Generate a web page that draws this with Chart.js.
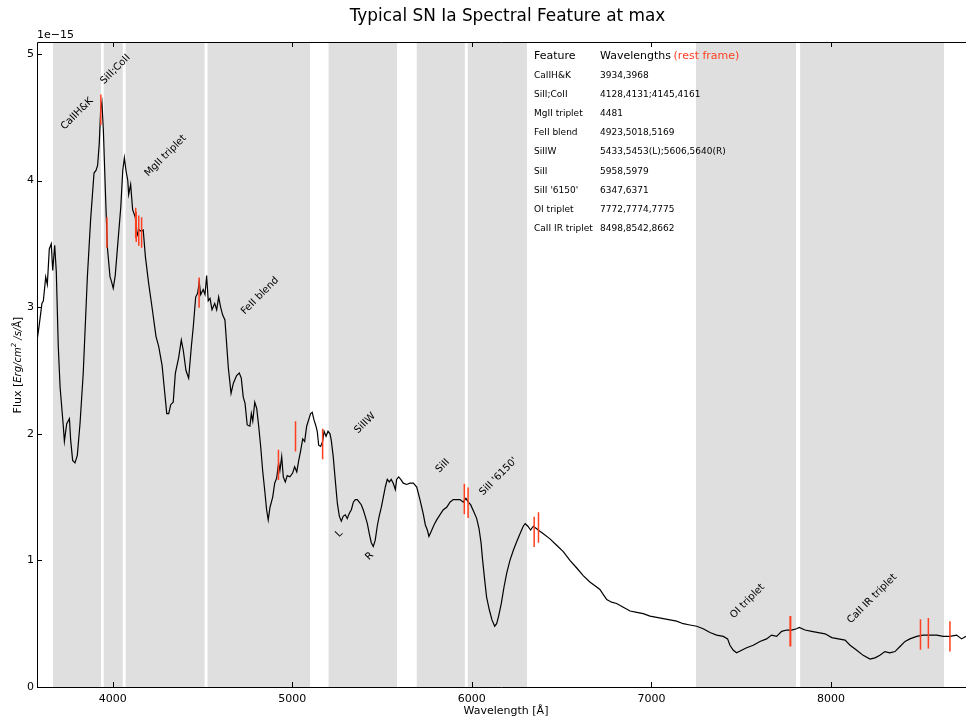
<!DOCTYPE html>
<html>
<head>
<meta charset="utf-8">
<title>Typical SN Ia Spectral Feature at max</title>
<script src="https://cdn.jsdelivr.net/npm/chart.js@4.4.1/dist/chart.umd.min.js"></script>
<style>
  body { margin: 0; background: #fff; }
  canvas { display: block; }
</style>
</head>
<body>
<canvas id="spec-chart" width="967" height="720"></canvas>
<script>
// Spectrum (wavelength in Angstrom, flux in units of 1e-15)
const wave = [3580,3591,3606,3614,3627,3636,3647,3658,3666,3677,3686,3697,3707,3725,3731,3744,3759,3766,3777,3790,
  3803,3818,3836,3859,3877,3896,3907,3916,3925,3933,3940,3948,3959,3970,3985,3992,4003,4014,4030,4045,
  4056,4065,4074,4084,4089,4100,4111,4126,4137,4148,4159,4170,4182,4200,4219,4241,4256,4275,4290,4301,
  4312,4323,4337,4349,4367,4382,4393,4408,4423,4438,4449,4462,4473,4482,4490,4504,4514,4523,4532,4542,
  4553,4568,4579,4590,4601,4612,4625,4644,4659,4672,4690,4705,4716,4727,4737,4749,4764,4772,4780,4791,
  4802,4813,4824,4835,4846,4857,4866,4876,4891,4902,4913,4924,4931,4941,4950,4961,4972,4987,5002,5013,
  5025,5036,5047,5058,5069,5080,5091,5102,5111,5121,5132,5139,5147,5158,5169,5177,5188,5199,5210,5217,
  5228,5239,5251,5262,5273,5284,5295,5306,5317,5329,5340,5351,5362,5373,5384,5395,5406,5418,5429,5440,
  5451,5462,5473,5484,5496,5507,5518,5529,5540,5551,5562,5574,5581,5592,5604,5618,5637,5655,5674,5693,
  5711,5729,5741,5752,5761,5774,5789,5804,5822,5841,5860,5878,5896,5915,5934,5952,5967,5980,5993,6012,
  6027,6040,6051,6060,6071,6082,6097,6112,6127,6138,6149,6164,6179,6194,6212,6231,6250,6268,6286,6297,
  6312,6327,6342,6361,6379,6398,6435,6472,6509,6546,6584,6620,6657,6695,6713,6732,6751,6778,6806,6843,
  6881,6918,6954,6992,7029,7066,7103,7140,7177,7214,7252,7288,7326,7363,7400,7424,7437,7456,7474,7502,
  7530,7567,7604,7641,7669,7697,7725,7753,7781,7808,7823,7855,7892,7929,7967,8004,8041,8078,8106,8143,
  8179,8217,8245,8272,8300,8328,8356,8384,8412,8439,8477,8513,8551,8588,8625,8662,8699,8727,8751];
const flux = [2.75,2.86,3.03,3.05,3.24,3.18,3.46,3.50,3.29,3.49,3.28,2.69,2.37,2.06,1.94,2.08,2.12,1.95,1.79,1.77,
  1.83,2.08,2.48,3.24,3.69,4.06,4.08,4.12,4.29,4.56,4.62,4.40,3.93,3.48,3.24,3.21,3.15,3.25,3.53,3.79,
  4.08,4.18,4.08,4.00,3.89,3.97,3.77,3.71,3.57,3.61,3.60,3.61,3.40,3.19,3.00,2.77,2.69,2.54,2.32,2.16,
  2.16,2.23,2.25,2.48,2.60,2.74,2.66,2.50,2.44,2.69,2.85,3.08,3.11,3.20,3.10,3.14,3.10,3.25,3.05,3.07,
  2.98,3.03,2.98,3.08,3.00,2.94,2.90,2.52,2.32,2.40,2.46,2.48,2.44,2.29,2.24,2.07,2.06,2.16,2.10,2.25,
  2.20,2.06,1.90,1.71,1.56,1.40,1.32,1.42,1.50,1.61,1.65,1.77,1.71,1.82,1.66,1.62,1.67,1.66,1.69,1.74,
  1.70,1.79,1.87,1.96,1.94,2.06,2.11,2.16,2.17,2.11,2.06,2.02,1.91,1.90,1.94,2.02,1.98,2.02,2.00,1.95,
  1.82,1.64,1.45,1.35,1.31,1.35,1.36,1.33,1.37,1.40,1.46,1.48,1.48,1.46,1.44,1.40,1.35,1.29,1.21,1.14,
  1.11,1.16,1.27,1.35,1.42,1.50,1.58,1.64,1.62,1.64,1.61,1.56,1.64,1.66,1.64,1.61,1.60,1.61,1.61,1.58,
  1.48,1.37,1.28,1.24,1.19,1.23,1.28,1.32,1.36,1.40,1.42,1.46,1.48,1.48,1.48,1.46,1.49,1.46,1.44,1.38,
  1.33,1.25,1.14,1.00,0.85,0.71,0.61,0.53,0.48,0.50,0.56,0.66,0.79,0.90,1.00,1.08,1.15,1.21,1.27,1.29,
  1.27,1.24,1.27,1.25,1.23,1.21,1.17,1.12,1.07,1.00,0.94,0.88,0.83,0.79,0.77,0.73,0.69,0.67,0.66,0.63,
  0.60,0.59,0.58,0.56,0.55,0.54,0.53,0.52,0.50,0.49,0.48,0.46,0.43,0.41,0.40,0.38,0.33,0.29,0.27,0.29,
  0.31,0.33,0.36,0.38,0.41,0.40,0.44,0.45,0.45,0.46,0.47,0.45,0.44,0.43,0.42,0.39,0.38,0.37,0.33,0.29,
  0.25,0.22,0.23,0.25,0.28,0.27,0.28,0.32,0.36,0.38,0.40,0.41,0.41,0.41,0.40,0.40,0.41,0.38,0.40];

// Red line markers at the rest-frame wavelengths
const markWave = [3934,3968,4128,4131,4145,4161,4481,4923,5018,5169,5958,5979,6347,6371,7772,7774,7775,8498,8542,8662];
const markFlux = [4.56,3.59,3.665,3.635,3.605,3.59,3.115,1.755,1.98,1.92,1.485,1.455,1.225,1.26,0.44,0.44,0.44,0.415,0.425,0.40];
const markHalf = 0.12;

// Shaded feature regions
const bandStart = [3668,3950,4072,4528,5202,5693,5977,7248,7828];
const bandEnd   = [3935,4056,4512,5099,5583,5961,6307,7805,8629];

// Rotated labels
const annoText = ['CaIIH&K','SiII;CoII','MgII triplet','FeII blend','SiIIW','L','R','SiII',"SiII '6150'",'OI triplet','CaII IR triplet'];
const annoWave = [3731,3952,4198,4735,5366,5260,5427,5818,6062,7458,8110];
const annoFlux = [4.40,4.76,4.03,2.94,2.00,1.18,1.00,1.69,1.51,0.54,0.50];

// Feature table
const featureNames = ['CaIIH&K','SiII;CoII','MgII triplet','FeII blend','SiIIW','SiII',"SiII '6150'",'OI triplet','CaII IR triplet'];
const featureWaves = ['3934,3968','4128,4131;4145,4161','4481','4923,5018,5169','5433,5453(L);5606,5640(R)','5958,5979','6347,6371','7772,7774,7775','8498,8542,8662'];

const xTicks = [4000,5000,6000,7000,8000];
const yTicks = [0,1,2,3,4,5];

const FONT = '"DejaVu Sans", sans-serif';
const RED = '#ff3f1f';

const spectrum = wave.map((w, i) => ({x: w, y: flux[i]}));
const markers = [];
markWave.forEach((w, i) => {
    markers.push({x: w, y: markFlux[i] - markHalf});
    markers.push({x: w, y: markFlux[i] + markHalf});
    markers.push({x: w, y: null});
});

const decor = {
    id: 'decor',
    beforeDatasetsDraw(chart) {
        const {ctx, chartArea: a, scales: {x}} = chart;
        ctx.save();
        ctx.fillStyle = '#dfdfdf';
        bandStart.forEach((s, i) => {
            const x0 = x.getPixelForValue(s);
            const x1 = x.getPixelForValue(bandEnd[i]);
            ctx.fillRect(x0, a.top, x1 - x0, a.bottom - a.top);
        });
        ctx.restore();
    },
    afterDraw(chart) {
        const {ctx, chartArea: a, scales: {x, y}} = chart;
        ctx.save();

        // frame
        ctx.strokeStyle = '#000';
        ctx.lineWidth = 1;
        ctx.beginPath();
        ctx.moveTo(a.right, a.top + 0.5);
        ctx.lineTo(a.left + 0.5, a.top + 0.5);
        ctx.lineTo(a.left + 0.5, a.bottom + 0.5);
        ctx.lineTo(a.right, a.bottom + 0.5);
        ctx.stroke();

        // inward ticks
        ctx.beginPath();
        xTicks.forEach(v => {
            const px = Math.round(x.getPixelForValue(v)) + 0.5;
            ctx.moveTo(px, a.bottom); ctx.lineTo(px, a.bottom - 5);
            ctx.moveTo(px, a.top); ctx.lineTo(px, a.top + 5);
        });
        yTicks.forEach(v => {
            const py = Math.round(y.getPixelForValue(v)) + 0.5;
            ctx.moveTo(a.left, py); ctx.lineTo(a.left + 5, py);
        });
        ctx.stroke();

        // annotations
        ctx.fillStyle = '#000';
        ctx.font = '10px ' + FONT;
        ctx.textAlign = 'left';
        ctx.textBaseline = 'alphabetic';
        annoText.forEach((t, i) => {
            ctx.save();
            ctx.translate(x.getPixelForValue(annoWave[i]), y.getPixelForValue(annoFlux[i]));
            ctx.rotate(-Math.PI / 4);
            ctx.fillText(t, 0, 0);
            ctx.restore();
        });

        // feature table
        const c1 = x.getPixelForValue(6346);
        const c2 = x.getPixelForValue(6714);
        const top = y.getPixelForValue(4.96);
        ctx.font = '11px ' + FONT;
        ctx.fillText('Feature', c1, top);
        ctx.fillText('Wavelengths', c2, top);
        const ww = ctx.measureText('Wavelengths ').width;
        ctx.fillStyle = RED;
        ctx.fillText('(rest frame)', c2 + ww - 1, top);
        ctx.fillStyle = '#000';
        ctx.font = '9px ' + FONT;
        featureNames.forEach((n, i) => {
            const py = top + 18.5 + i * 19.2;
            ctx.fillText(n, c1, py);
            ctx.fillText(featureWaves[i], c2, py);
        });

        // offset text
        ctx.font = '11px ' + FONT;
        ctx.fillText('1e\u221215', a.left, a.top - 4);

        // title
        ctx.font = '16.9px ' + FONT;
        ctx.textAlign = 'center';
        ctx.fillText('Typical SN Ia Spectral Feature at max', 507.5, 21);

        // x title
        ctx.font = '11px ' + FONT;
        ctx.fillText('Wavelength [\u00c5]', 506, 714);

        // y title with math part
        const parts = [
            {t: 'Flux [', f: '11px ' + FONT, dy: 0},
            {t: 'Erg/cm', f: 'italic 10px ' + FONT, dy: 0},
            {t: '2', f: 'italic 7px ' + FONT, dy: -5},
            {t: ' /s/', f: 'italic 10px ' + FONT, dy: 0},
            {t: '\u00c5', f: '10px ' + FONT, dy: 0},
            {t: ']', f: '11px ' + FONT, dy: 0}
        ];
        let total = 0;
        parts.forEach(p => { ctx.font = p.f; p.w = ctx.measureText(p.t).width; total += p.w; });
        ctx.translate(21, 365);
        ctx.rotate(-Math.PI / 2);
        ctx.textAlign = 'left';
        let cx = -total / 2;
        parts.forEach(p => {
            ctx.font = p.f;
            ctx.fillText(p.t, cx, p.dy);
            cx += p.w;
        });
        ctx.restore();
    }
};

const chart = new Chart(document.getElementById('spec-chart'), {
    type: 'line',
    data: {
        datasets: [
            {
                label: 'spectrum',
                data: spectrum,
                borderColor: '#000',
                borderWidth: 1.2,
                pointRadius: 0,
                tension: 0,
                fill: false,
                order: 2
            },
            {
                label: 'lines',
                data: markers,
                borderColor: RED,
                borderWidth: 1.5,
                pointRadius: 0,
                spanGaps: false,
                fill: false,
                order: 1
            }
        ]
    },
    options: {
        responsive: false,
        animation: false,
        devicePixelRatio: 1,
        layout: { padding: { left: 0, right: 1, top: 42, bottom: 0 } },
        plugins: {
            legend: { display: false },
            tooltip: { enabled: false },
            title: { display: false }
        },
        scales: {
            x: {
                type: 'linear',
                min: 3578.5,
                max: 8751.5,
                afterBuildTicks: s => { s.ticks = xTicks.map(v => ({value: v})); },
                afterFit: s => { s.height = 33; },
                grid: { display: false, drawTicks: false },
                border: { display: false },
                ticks: {
                    color: '#000',
                    padding: 6,
                    maxRotation: 0,
                    font: { family: 'DejaVu Sans', size: 11 },
                    callback: v => String(v)
                }
            },
            y: {
                type: 'linear',
                min: 0,
                max: 5.095,
                afterBuildTicks: s => { s.ticks = yTicks.map(v => ({value: v})); },
                afterFit: s => { s.width = 37; },
                grid: { display: false, drawTicks: false },
                border: { display: false },
                ticks: {
                    color: '#000',
                    padding: 3,
                    font: { family: 'DejaVu Sans', size: 11 },
                    callback: v => String(v)
                }
            }
        }
    },
    plugins: [decor]
});
</script>
</body>
</html>
